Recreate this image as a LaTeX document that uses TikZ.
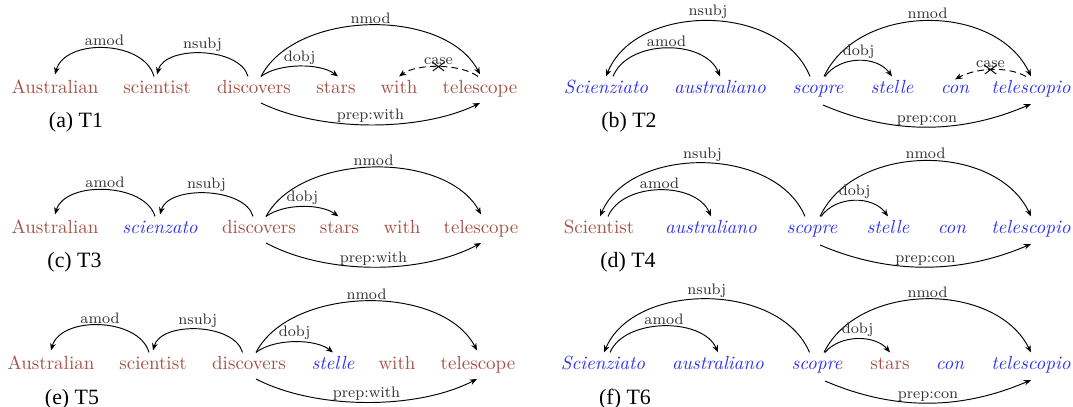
\documentclass[tikz,border=0pt]{standalone}
\usepackage{fontspec}
\newfontfamily\capfont{Liberation Serif}
\usetikzlibrary{calc,arrows.meta,shapes.misc}
\definecolor{brn}{RGB}{165,82,70}
\definecolor{blu}{RGB}{45,45,255}
\tikzset{
  wd/.style={inner xsep=0pt, inner ysep=2.1pt, text height=6.94pt, text depth=1.94pt, anchor=base, font=\fontsize{10}{12}\selectfont},
  en/.style={wd, text=brn},
  it/.style={wd, text=blu, font=\fontsize{10}{12}\selectfont\itshape},
  dep/.style={-{Stealth[length=3.8pt,width=3pt]}, line width=0.5pt},
  casearc/.style={dep, dash pattern=on 3.5pt off 2.2pt},
  lab/.style={font=\fontsize{8}{9}\selectfont, text=black!80, inner sep=0pt, above=0.8pt},
  xmark/.style={cross out, draw, solid, line width=0.5pt, minimum width=5.5pt, minimum height=4pt, inner sep=0pt},
  captxt/.style={font=\capfont\fontsize{11.5}{13}\selectfont, anchor=center, inner sep=0pt}
}
\begin{document}
\begin{tikzpicture}[x=0.526pt,y=-0.526pt]
\useasboundingbox (0,0) rectangle (1073,407);

% ---------- (a) ----------
\node[en] (a1) at (55,94) {Australian};
\node[en] (a2) at (157,94) {scientist};
\node[en] (a3) at (254,94) {discovers};
\node[en] (a4) at (336,94) {stars};
\node[en] (a5) at (399,94) {with};
\node[en] (a6) at (480,94) {telescope};
\draw[dep] ($(a2.north)+(-3,0)$) .. controls +(-10,-36.5) and +(10,-36.5) .. ($(a1.north)+(0,-2)$) node[lab,midway]{amod};
\draw[dep] ($(a3.north)+(-6,0)$) .. controls +(-8,-29.5) and +(8,-29.5) .. ($(a2.north)+(0,-2)$) node[lab,midway]{nsubj};
\draw[dep] ($(a3.north)+(7,0)$) .. controls +(35,-67) and +(-35,-67) .. ($(a6.north)+(0,-2)$) node[lab,midway]{nmod};
\draw[dep] ($(a3.north)+(7,0)$) .. controls +(18,-13.5) and +(-18,-13.5) .. ($(a4.north)+(2,0)$) node[lab,midway]{dobj};
\draw[casearc] ($(a6.north)+(-2,0)$) .. controls +(-18,-13) and +(18,-13) .. (a5.north) node[lab,midway]{case} node[xmark,midway] (ax) {};
\draw[dep] ($(a3.base)+(7,9)$) .. controls +(60,29) and +(-60,29) .. ($(a6.base)+(0,9)$) node[lab,midway]{prep:with};
\node[captxt] (ca) at (76,122) {(a) T1};

% ---------- (b) ----------
\node[it] (b1) at (606,94) {Scienziato};
\node[it] (b2) at (720,94) {australiano};
\node[it] (b3) at (818,94) {scopre};
\node[it] (b4) at (892,94) {stelle};
\node[it] (b5) at (955,94) {con};
\node[it] (b6) at (1031,94) {telescopio};
\draw[dep] ($(b3.north)+(-8,0)$) .. controls +(-30,-74) and +(30,-74) .. (b1.north) node[lab,midway]{nsubj};
\draw[dep] ($(b1.north)+(7,0)$) .. controls +(15,-37.5) and +(-15,-37.5) .. (b2.north) node[lab,midway]{amod};
\draw[dep] ($(b3.north)+(6,0)$) .. controls +(35,-74) and +(-35,-74) .. (b6.north) node[lab,midway]{nmod};
\draw[dep] ($(b3.north)+(7,0)$) .. controls +(15,-21) and +(-15,-21) .. (b4.north) node[lab,midway]{dobj};
\draw[casearc] ($(b6.north)+(-5,0)$) .. controls +(-20,-11) and +(20,-11) .. ($(b5.north)+(0,3)$) node[lab,midway]{case} node[xmark,midway] (bx) {};
\draw[dep] ($(b3.base)+(5,11)$) .. controls +(70,30) and +(-70,30) .. ($(b6.base)+(0,10)$) node[lab,midway]{prep:con};
\node[captxt] (cb) at (629,122) {(b) T2};

% ---------- (c) ----------
\node[en] (c1) at (55,234) {Australian};
\node[it] (c2) at (160,234) {scienzato};
\node[en] (c3) at (259,234) {discovers};
\node[en] (c4) at (339.5,234) {stars};
\node[en] (c5) at (402,234) {with};
\node[en] (c6) at (481,234) {telescope};
\draw[dep] ($(c2.north)+(-5,0)$) .. controls +(-10,-34) and +(10,-34) .. ($(c1.north)+(0,-2)$) node[lab,midway]{amod};
\draw[dep] ($(c3.north)+(-6,0)$) .. controls +(-8,-29.5) and +(8,-29.5) .. ($(c2.north)+(0,-2)$) node[lab,midway]{nsubj};
\draw[dep] ($(c3.north)+(7,0)$) .. controls +(35,-64) and +(-35,-64) .. ($(c6.north)+(0,-2)$) node[lab,midway]{nmod};
\draw[dep] ($(c3.north)+(7,0)$) .. controls +(18,-13) and +(-18,-13) .. ($(c4.north)+(-1,0)$) node[lab,midway]{dobj};
\draw[dep] ($(c3.base)+(7,9)$) .. controls +(60,32) and +(-60,32) .. ($(c6.base)+(0,9)$) node[lab,midway]{prep:with};
\node[captxt] (cc) at (74.5,262) {(c) T3};

% ---------- (d) ----------
\node[en] (d1) at (599,234) {Scientist};
\node[it] (d2) at (711,234) {australiano};
\node[it] (d3) at (812,234) {scopre};
\node[it] (d4) at (888,234) {stelle};
\node[it] (d5) at (952,234) {con};
\node[it] (d6) at (1031,234) {telescopio};
\draw[dep] ($(d3.north)+(-7,0)$) .. controls +(-30,-71) and +(30,-71) .. ($(d1.north)+(1,0)$) node[lab,midway]{nsubj};
\draw[dep] ($(d1.north)+(9,0)$) .. controls +(15,-35) and +(-15,-35) .. (d2.north) node[lab,midway]{amod};
\draw[dep] ($(d3.north)+(8,0)$) .. controls +(35,-74) and +(-35,-74) .. (d6.north) node[lab,midway]{nmod};
\draw[dep] ($(d3.north)+(9,0)$) .. controls +(15,-21) and +(-15,-21) .. (d4.north) node[lab,midway]{dobj};
\draw[dep] ($(d3.base)+(8,11)$) .. controls +(70,30) and +(-70,30) .. ($(d6.base)+(0,10)$) node[lab,midway]{prep:con};
\node[captxt] (cd) at (628,262) {(d) T4};

% ---------- (e) ----------
\node[en] (e1) at (51,370) {Australian};
\node[en] (e2) at (153,370) {scientist};
\node[en] (e3) at (249,370) {discovers};
\node[it] (e4) at (333,370) {stelle};
\node[en] (e5) at (397,370) {with};
\node[en] (e6) at (478,370) {telescope};
\draw[dep] ($(e2.north)+(-4,0)$) .. controls +(-10,-35) and +(10,-35) .. ($(e1.north)+(0,-2)$) node[lab,midway]{amod};
\draw[dep] ($(e3.north)+(-6.5,0)$) .. controls +(-8,-29.5) and +(8,-29.5) .. ($(e2.north)+(0,-2)$) node[lab,midway]{nsubj};
\draw[dep] ($(e3.north)+(7,0)$) .. controls +(35,-67) and +(-35,-67) .. ($(e6.north)+(-1,-2)$) node[lab,midway]{nmod};
\draw[dep] ($(e3.north)+(7,0)$) .. controls +(18,-14) and +(-18,-14) .. (e4.north) node[lab,midway]{dobj};
\draw[dep] ($(e3.base)+(7,9)$) .. controls +(60,31) and +(-60,31) .. ($(e6.base)+(-1,9)$) node[lab,midway]{prep:with};
\node[captxt] (ce) at (72,399) {(e) T5};

% ---------- (f) ----------
\node[it] (f1) at (603,370) {Scienziato};
\node[it] (f2) at (718,370) {australiano};
\node[it] (f3) at (817,370) {scopre};
\node[en] (f4) at (890,370) {stars};
\node[it] (f5) at (950,370) {con};
\node[it] (f6) at (1031,370) {telescopio};
\draw[dep] ($(f3.north)+(-7.5,0)$) .. controls +(-30,-71) and +(30,-71) .. ($(f1.north)+(1,0)$) node[lab,midway]{nsubj};
\draw[dep] ($(f1.north)+(7,0)$) .. controls +(15,-35) and +(-15,-35) .. (f2.north) node[lab,midway]{amod};
\draw[dep] ($(f3.north)+(7,0)$) .. controls +(35,-71) and +(-35,-71) .. (f6.north) node[lab,midway]{nmod};
\draw[dep] ($(f3.north)+(8,0)$) .. controls +(15,-18) and +(-15,-18) .. (f4.north) node[lab,midway]{dobj};
\draw[dep] ($(f3.base)+(8,11)$) .. controls +(70,30) and +(-70,30) .. ($(f6.base)+(0,10)$) node[lab,midway]{prep:con};
\node[captxt] (cf) at (625,399) {(f) T6};
\end{tikzpicture}
\end{document}
